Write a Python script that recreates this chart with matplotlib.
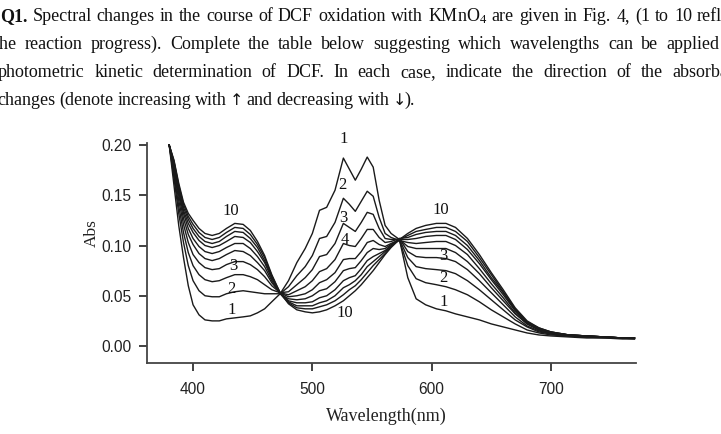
import matplotlib
matplotlib.use('Agg')
import matplotlib.pyplot as plt

# ---------------- data ----------------
wavelength = [380, 384, 388, 392, 396, 400, 405, 410, 416, 422, 428, 435, 442, 448,
              454, 460, 466, 473, 480, 487, 494, 500, 506, 512, 519, 526, 531, 536,
              541, 546, 551, 556, 561, 566, 573, 580, 587, 595, 604, 612, 620, 630,
              640, 650, 660, 670, 680, 690, 700, 715, 730, 745, 760, 770]

abs_1 = [0.200, 0.160, 0.120, 0.088, 0.060, 0.041, 0.031, 0.026, 0.025, 0.025, 0.027, 0.028, 0.029, 0.030,
         0.033, 0.037, 0.044, 0.052, 0.065, 0.083, 0.097, 0.112, 0.135, 0.138, 0.155, 0.187, 0.176, 0.165,
         0.176, 0.188, 0.178, 0.145, 0.120, 0.112, 0.106, 0.068, 0.047, 0.041, 0.037, 0.035, 0.032, 0.029,
         0.026, 0.022, 0.019, 0.016, 0.013, 0.011, 0.010, 0.009, 0.008, 0.008, 0.007, 0.007]
abs_2 = [0.200, 0.167, 0.132, 0.103, 0.080, 0.065, 0.055, 0.050, 0.049, 0.049, 0.052, 0.054, 0.055, 0.054,
         0.053, 0.052, 0.052, 0.052, 0.059, 0.070, 0.079, 0.090, 0.107, 0.109, 0.123, 0.147, 0.141, 0.134,
         0.144, 0.154, 0.149, 0.128, 0.112, 0.108, 0.105, 0.080, 0.067, 0.063, 0.061, 0.059, 0.056, 0.051,
         0.044, 0.036, 0.029, 0.022, 0.016, 0.013, 0.011, 0.010, 0.009, 0.008, 0.008, 0.007]
abs_3 = [0.200, 0.171, 0.139, 0.113, 0.093, 0.080, 0.071, 0.066, 0.064, 0.065, 0.068, 0.071, 0.071, 0.069,
         0.066, 0.061, 0.056, 0.053, 0.054, 0.061, 0.068, 0.076, 0.089, 0.091, 0.102, 0.122, 0.118, 0.114,
         0.123, 0.133, 0.131, 0.117, 0.107, 0.106, 0.106, 0.088, 0.079, 0.077, 0.076, 0.075, 0.072, 0.065,
         0.056, 0.046, 0.036, 0.026, 0.019, 0.014, 0.012, 0.010, 0.009, 0.009, 0.008, 0.008]
abs_4 = [0.200, 0.175, 0.145, 0.121, 0.103, 0.091, 0.083, 0.078, 0.076, 0.077, 0.081, 0.084, 0.084, 0.081,
         0.076, 0.069, 0.060, 0.053, 0.051, 0.055, 0.059, 0.065, 0.074, 0.077, 0.086, 0.102, 0.100, 0.099,
         0.107, 0.116, 0.116, 0.108, 0.103, 0.104, 0.107, 0.094, 0.089, 0.088, 0.088, 0.087, 0.084, 0.076,
         0.065, 0.053, 0.041, 0.029, 0.020, 0.015, 0.012, 0.010, 0.009, 0.009, 0.008, 0.008]
abs_5 = [0.200, 0.178, 0.150, 0.127, 0.111, 0.101, 0.092, 0.087, 0.085, 0.087, 0.091, 0.095, 0.094, 0.090,
         0.083, 0.075, 0.063, 0.053, 0.049, 0.050, 0.052, 0.056, 0.063, 0.066, 0.073, 0.086, 0.087, 0.087,
         0.094, 0.103, 0.105, 0.101, 0.099, 0.102, 0.106, 0.099, 0.097, 0.097, 0.097, 0.097, 0.093, 0.084,
         0.072, 0.058, 0.045, 0.032, 0.022, 0.016, 0.013, 0.011, 0.010, 0.009, 0.008, 0.008]
abs_6 = [0.200, 0.180, 0.153, 0.132, 0.117, 0.107, 0.099, 0.094, 0.092, 0.094, 0.098, 0.102, 0.102, 0.097,
         0.089, 0.079, 0.065, 0.052, 0.047, 0.046, 0.047, 0.050, 0.055, 0.057, 0.064, 0.075, 0.077, 0.078,
         0.085, 0.093, 0.097, 0.096, 0.097, 0.101, 0.105, 0.103, 0.102, 0.103, 0.104, 0.104, 0.100, 0.091,
         0.077, 0.062, 0.048, 0.033, 0.022, 0.016, 0.013, 0.011, 0.010, 0.009, 0.008, 0.008]
abs_7 = [0.200, 0.181, 0.156, 0.135, 0.122, 0.113, 0.105, 0.100, 0.098, 0.100, 0.104, 0.109, 0.108, 0.103,
         0.094, 0.083, 0.067, 0.053, 0.045, 0.043, 0.043, 0.044, 0.048, 0.050, 0.056, 0.065, 0.068, 0.070,
         0.077, 0.085, 0.089, 0.092, 0.095, 0.100, 0.106, 0.106, 0.107, 0.109, 0.110, 0.110, 0.106, 0.096,
         0.082, 0.066, 0.051, 0.035, 0.023, 0.017, 0.013, 0.011, 0.010, 0.009, 0.008, 0.008]
abs_8 = [0.200, 0.183, 0.158, 0.138, 0.126, 0.117, 0.109, 0.104, 0.102, 0.104, 0.109, 0.114, 0.113, 0.107,
         0.098, 0.085, 0.069, 0.053, 0.044, 0.040, 0.040, 0.040, 0.043, 0.045, 0.050, 0.058, 0.061, 0.065,
         0.071, 0.079, 0.084, 0.089, 0.094, 0.099, 0.107, 0.108, 0.111, 0.113, 0.114, 0.114, 0.110, 0.100,
         0.085, 0.068, 0.053, 0.036, 0.024, 0.017, 0.014, 0.011, 0.010, 0.009, 0.008, 0.008]
abs_9 = [0.200, 0.184, 0.160, 0.141, 0.129, 0.121, 0.113, 0.108, 0.106, 0.108, 0.113, 0.118, 0.117, 0.111,
         0.101, 0.088, 0.070, 0.052, 0.043, 0.038, 0.037, 0.037, 0.039, 0.041, 0.045, 0.051, 0.056, 0.060,
         0.066, 0.073, 0.080, 0.086, 0.092, 0.099, 0.106, 0.110, 0.114, 0.116, 0.118, 0.118, 0.114, 0.104,
         0.088, 0.071, 0.054, 0.037, 0.024, 0.018, 0.014, 0.011, 0.010, 0.009, 0.008, 0.008]
abs_10 = [0.200, 0.185, 0.162, 0.143, 0.132, 0.125, 0.117, 0.112, 0.110, 0.112, 0.117, 0.122, 0.121, 0.115,
          0.104, 0.090, 0.071, 0.053, 0.042, 0.036, 0.034, 0.033, 0.034, 0.036, 0.040, 0.045, 0.050, 0.055,
          0.061, 0.068, 0.075, 0.083, 0.091, 0.098, 0.106, 0.112, 0.117, 0.120, 0.122, 0.122, 0.118, 0.107,
          0.091, 0.073, 0.056, 0.038, 0.025, 0.018, 0.014, 0.011, 0.010, 0.009, 0.008, 0.008]

spectra = [abs_1, abs_2, abs_3, abs_4, abs_5, abs_6, abs_7, abs_8, abs_9, abs_10]

x_ticks = [400, 500, 600, 700]
y_ticks = [0.00, 0.05, 0.10, 0.15, 0.20]
y_tick_labels = ['0.00', '0.05', '0.10', '0.15', '0.20']

# curve number annotations (text, wavelength, absorbance)
curve_notes = [('1', 526, 0.206), ('2', 525, 0.160), ('3', 526, 0.127), ('4', 527, 0.105),
               ('10', 527, 0.033),
               ('10', 432, 0.134), ('3', 434, 0.080), ('2', 432, 0.057), ('1', 432, 0.036),
               ('10', 608, 0.135), ('3', 610, 0.090), ('2', 610, 0.068), ('1', 610, 0.044)]

# paragraph above the figure (cropped at the image edges)
line1 = [('Q1.', True), ('Spectral', False), ('changes', False), ('in', False), ('the', False),
         ('course', False), ('of', False), ('DCF', False), ('oxidation', False), ('with', False),
         ('KMnO$_4$', False), ('are', False), ('given', False), ('in', False), ('Fig.', False),
         ('4,', False), ('(1', False), ('to', False), ('10', False), ('reflect', False)]
line2 = ['the', 'reaction', 'progress).', 'Complete', 'the', 'table', 'below', 'suggesting',
         'which', 'wavelengths', 'can', 'be', 'applied']
line3 = ['photometric', 'kinetic', 'determination', 'of', 'DCF.', 'In', 'each', 'case,',
         'indicate', 'the', 'direction', 'of', 'the', 'absorbance']
line4 = ['changes', '(denote', 'increasing', 'with', '\u2191', 'and', 'decreasing', 'with', '\u2193', ').']

# ---------------- drawing ----------------
plt.rcParams['mathtext.fontset'] = 'custom'
plt.rcParams['mathtext.rm'] = 'Liberation Serif'
plt.rcParams['mathtext.it'] = 'Liberation Serif:italic'

W, H = 721, 434
fig = plt.figure(figsize=(W / 100, H / 100), dpi=100)
renderer = fig.canvas.get_renderer()

SERIF = ['Liberation Serif', 'DejaVu Serif']
ARROW = ['DejaVu Sans']
NARROW = ['Liberation Sans Narrow', 'Liberation Sans']
TXT = '#111111'
FS = 13.0


def put_line(words, y_base, x_start, x_end=None, x_last_start=None, gap=None, gaps=None):
    objs = []
    for w in words:
        bold = False
        fam = SERIF
        size = FS
        if isinstance(w, tuple):
            w, bold = w
        if w in ('\u2191', '\u2193'):
            fam = ARROW
            size = FS - 1.5
        t = fig.text(0, 1 - y_base / H, w, fontsize=size, family=fam, color=TXT,
                     fontweight='bold' if bold else 'normal', va='baseline', ha='left')
        objs.append(t)
    widths = [t.get_window_extent(renderer).width for t in objs]
    if x_end is not None:
        gap = (x_end - x_start - sum(widths)) / (len(objs) - 1)
    elif x_last_start is not None:
        gap = (x_last_start - x_start - sum(widths[:-1])) / (len(objs) - 1)
    x = x_start
    for i, (t, w) in enumerate(zip(objs, widths)):
        t.set_x(x / W)
        g = gap if gaps is None else gaps[i]
        x += w + g


put_line(line1, 21, 0, x_last_start=697)
put_line(line2, 49, -5, x_end=719)
put_line(line3, 77, -2, x_last_start=672)
put_line(line4, 105, -3, gaps=[4.0, 4.0, 4.0, 3.0, 3.0, 4.0, 4.0, 3.0, -1.0, 0.0])

ax_left, ax_right, ax_top, ax_bottom = 147, 636, 143, 363
ax = fig.add_axes([ax_left / W, 1 - ax_bottom / H, (ax_right - ax_left) / W, (ax_bottom - ax_top) / H])

for spec in spectra:
    ax.plot(wavelength, spec, color='#1a1a1a', lw=1.0, solid_joinstyle='round')

ax.set_xlim(361.4, 771.3)
ax.set_ylim(-0.0169, 0.202)
ax.set_xticks(x_ticks)
ax.set_yticks(y_ticks)
ax.set_yticklabels(y_tick_labels)

for s in ['top', 'right']:
    ax.spines[s].set_visible(False)
for s in ['left', 'bottom']:
    ax.spines[s].set_color('#444444')
    ax.spines[s].set_linewidth(1.3)

ax.tick_params(axis='both', direction='out', length=6, width=1.3, color='#333333',
               labelsize=11.2, labelcolor='#222222', labelfontfamily=NARROW)
ax.tick_params(axis='y', pad=5)
ax.tick_params(axis='x', pad=8)

for txt, xw, ya in curve_notes:
    ax.text(xw, ya, txt, fontsize=12, family=SERIF, color='#111111',
            ha='center', va='center', clip_on=False)

fig.text(92 / W, 1 - 233 / H, 'Abs', rotation=90, fontsize=12.5, family=SERIF,
         color='#222222', ha='center', va='center')
fig.text(386 / W, 1 - 416 / H, 'Wavelength(nm)', fontsize=13, family=SERIF,
         color='#222222', ha='center', va='center')

fig.savefig('out.png', dpi=100)
